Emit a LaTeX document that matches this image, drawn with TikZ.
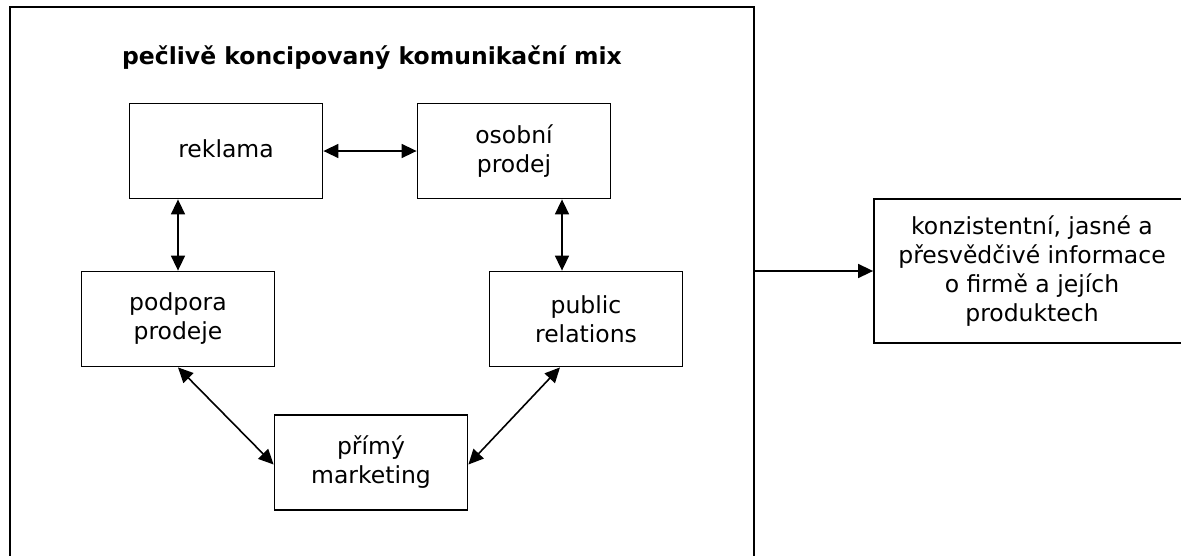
\documentclass[tikz,border=0pt]{standalone}
\usepackage{fontspec}
\setmainfont{DejaVu Sans}
\usetikzlibrary{arrows.meta}

\begin{document}
\begin{tikzpicture}[
    x=1pt,
    y=-1pt,
    every node/.style={font=\fontsize{23.5}{29}\selectfont},
    tool/.style={
        draw,
        line width=1.8pt,
        minimum width=193pt,
        minimum height=95pt,
        align=center
    },
    frame/.style={
        draw,
        line width=1.8pt,
        minimum width=744pt,
        minimum height=563pt
    },
    result/.style={
        draw,
        line width=1.8pt,
        minimum width=316pt,
        minimum height=144pt,
        align=center
    },
    link/.style={{Triangle[length=15pt,width=14pt]}-{Triangle[length=15pt,width=14pt]}, line width=1.6pt},
    flow/.style={-{Triangle[length=15pt,width=14pt]}, line width=1.6pt}
]
\useasboundingbox (0,0) rectangle (1181,555);

%------------------------------------------------
% Nodes
%------------------------------------------------
\node[frame] (mix) at (382,288.5) {};
\node[font=\fontsize{23.5}{29}\selectfont\bfseries] (title) at (372,58)
    {pečlivě koncipovaný komunikační mix};

\node[tool] (rek)  at (226,151)   {reklama\vphantom{p}};
\node[tool] (osob) at (514,151)   {osobní\\prodej};
\node[tool] (podp) at (178,319)   {podpora\\prodeje};
\node[tool] (pub)  at (586,319)   {public\\relations};
\node[tool] (prim) at (371,462.5) {přímý\\marketing};

\node[result] (info) at (1032,271)
    {konzistentní, jasné a\\přesvědčivé informace\\o firmě a jejích\\produktech};

%------------------------------------------------
% Arrows
%------------------------------------------------
\draw[link] (rek.east) -- (osob.west);
\draw[link] (podp.north |- rek.south) -- (podp.north);
\draw[link] ([xshift=-24pt]pub.north |- osob.south) -- ([xshift=-24pt]pub.north);
\draw[link] (podp.south) -- ([yshift=-2pt]prim.west);
\draw[link] ([xshift=-26pt]pub.south) -- ([yshift=-2pt]prim.east);

\draw[flow] (mix.east |- info.west) -- (info.west);

\end{tikzpicture}
\end{document}
